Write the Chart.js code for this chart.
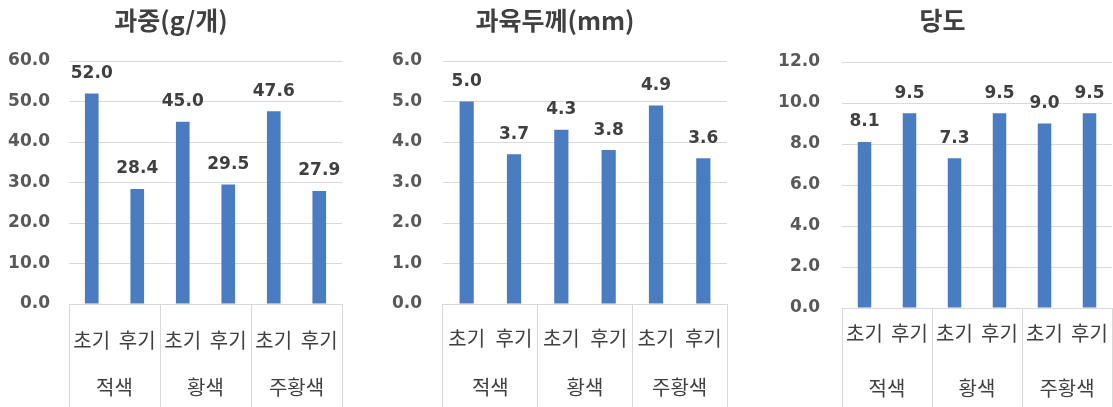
<!DOCTYPE html>
<html>
<head>
<meta charset="utf-8">
<script src="https://cdn.jsdelivr.net/npm/chart.js@4"></script>
<style>
  body { margin: 0; background: #fff; }
  .box { position: absolute; top: 0; height: 407px; }
</style>
</head>
<body>
<div class="box" style="left:0;width:352px"><canvas id="c1"></canvas></div>
<div class="box" style="left:383px;width:357px"><canvas id="c2"></canvas></div>
<div class="box" style="left:773px;width:340px"><canvas id="c3"></canvas></div>
<script>
// x-axis categories
const stages = ['초기', '후기', '초기', '후기', '초기', '후기'];
const groups = ['적색', '황색', '주황색'];

// values
const weight = [52.0, 28.4, 45.0, 29.5, 47.6, 27.9];     // 과중(g/개)
const thickness = [5.0, 3.7, 4.3, 3.8, 4.9, 3.6];       // 과육두께(mm)
const sugar = [8.1, 9.5, 7.3, 9.5, 9.0, 9.5];           // 당도

const FONT = '"Noto Sans CJK KR", "Noto Sans", sans-serif';
const NUM = '"DejaVu Sans", "Noto Sans", sans-serif';
const GRID = '#d9d9d9';
const LBL = 20;            // category label size
const HALF = LBL * 1.2 / 2;

// value labels above the bars
const barLabels = {
  id: 'barLabels',
  afterDatasetsDraw(chart) {
    const ctx = chart.ctx;
    const vals = chart.data.datasets[0].data;
    ctx.save();
    ctx.font = 'bold 17px ' + NUM;
    ctx.fillStyle = '#404040';
    ctx.textAlign = 'center';
    ctx.textBaseline = 'middle';
    chart.getDatasetMeta(0).data.forEach((bar, i) => {
      ctx.fillText(vals[i].toFixed(1), bar.x, bar.y - 20);
    });
    ctx.restore();
  }
};

function makechart(id, title, values, opt) {
  const total = 407 - opt.bottom;      // space under the plot
  const xH = 50;
  new Chart(document.getElementById(id), {
    type: 'bar',
    data: {
      labels: stages,
      datasets: [{
        data: values,
        backgroundColor: '#4a7cc1',
        barPercentage: 0.3,
        categoryPercentage: 1.0
      }]
    },
    options: {
      responsive: true,
      maintainAspectRatio: false,
      animation: false,
      layout: { padding: { left: 0, right: opt.padRight, top: 0, bottom: 0 } },
      plugins: {
        legend: { display: false },
        tooltip: { enabled: false },
        title: {
          display: true,
          text: title,
          color: '#404040',
          font: { family: FONT, size: 25, weight: 'bold', lineHeight: 1.2 },
          padding: { top: 5, bottom: opt.top - 5 - 30 }
        }
      },
      scales: {
        y: {
          min: 0,
          max: opt.max,
          afterFit: s => { s.width = opt.yWidth; },
          ticks: {
            stepSize: opt.step,
            padding: opt.yPad,
            color: '#595959',
            font: { family: NUM, size: 17, weight: 'bold' },
            callback: v => v.toFixed(1)
          },
          grid: { color: GRID, drawTicks: false },
          border: { display: false }
        },
        x: {
          weight: 0,
          afterFit: s => { s.height = xH; },
          ticks: {
            autoSkip: false,
            maxRotation: 0,
            color: '#404040',
            padding: opt.subOff - total - HALF,
            font: { family: FONT, size: LBL }
          },
          grid: {
            drawOnChartArea: false,
            tickLength: total,
            color: c => (c.index === undefined || c.index % 2 === 0) ? GRID : 'rgba(0,0,0,0)'
          },
          border: { display: false }
        },
        x2: {
          type: 'category',
          axis: 'x',
          position: 'bottom',
          weight: 1,
          labels: groups,
          offset: true,
          afterFit: s => { s.height = total - xH; },
          ticks: {
            color: '#404040',
            padding: opt.groupOff - xH - HALF,
            font: { family: FONT, size: LBL }
          },
          grid: { display: false, drawTicks: false },
          border: { display: false }
        }
      }
    },
    plugins: [barLabels]
  });
}

makechart('c1', '과중(g/개)', weight,
  { max: 60, step: 10, yWidth: 69, yPad: 19, padRight: 10, top: 61, bottom: 304, subOff: 36, groupOff: 83 });
makechart('c2', '과육두께(mm)', thickness,
  { max: 6, step: 1, yWidth: 60, yPad: 21, padRight: 13, top: 61, bottom: 304, subOff: 34, groupOff: 83 });
makechart('c3', '당도', sugar,
  { max: 12, step: 2, yWidth: 69, yPad: 22, padRight: 1, top: 62, bottom: 308, subOff: 25, groupOff: 80 });
</script>
</body>
</html>
